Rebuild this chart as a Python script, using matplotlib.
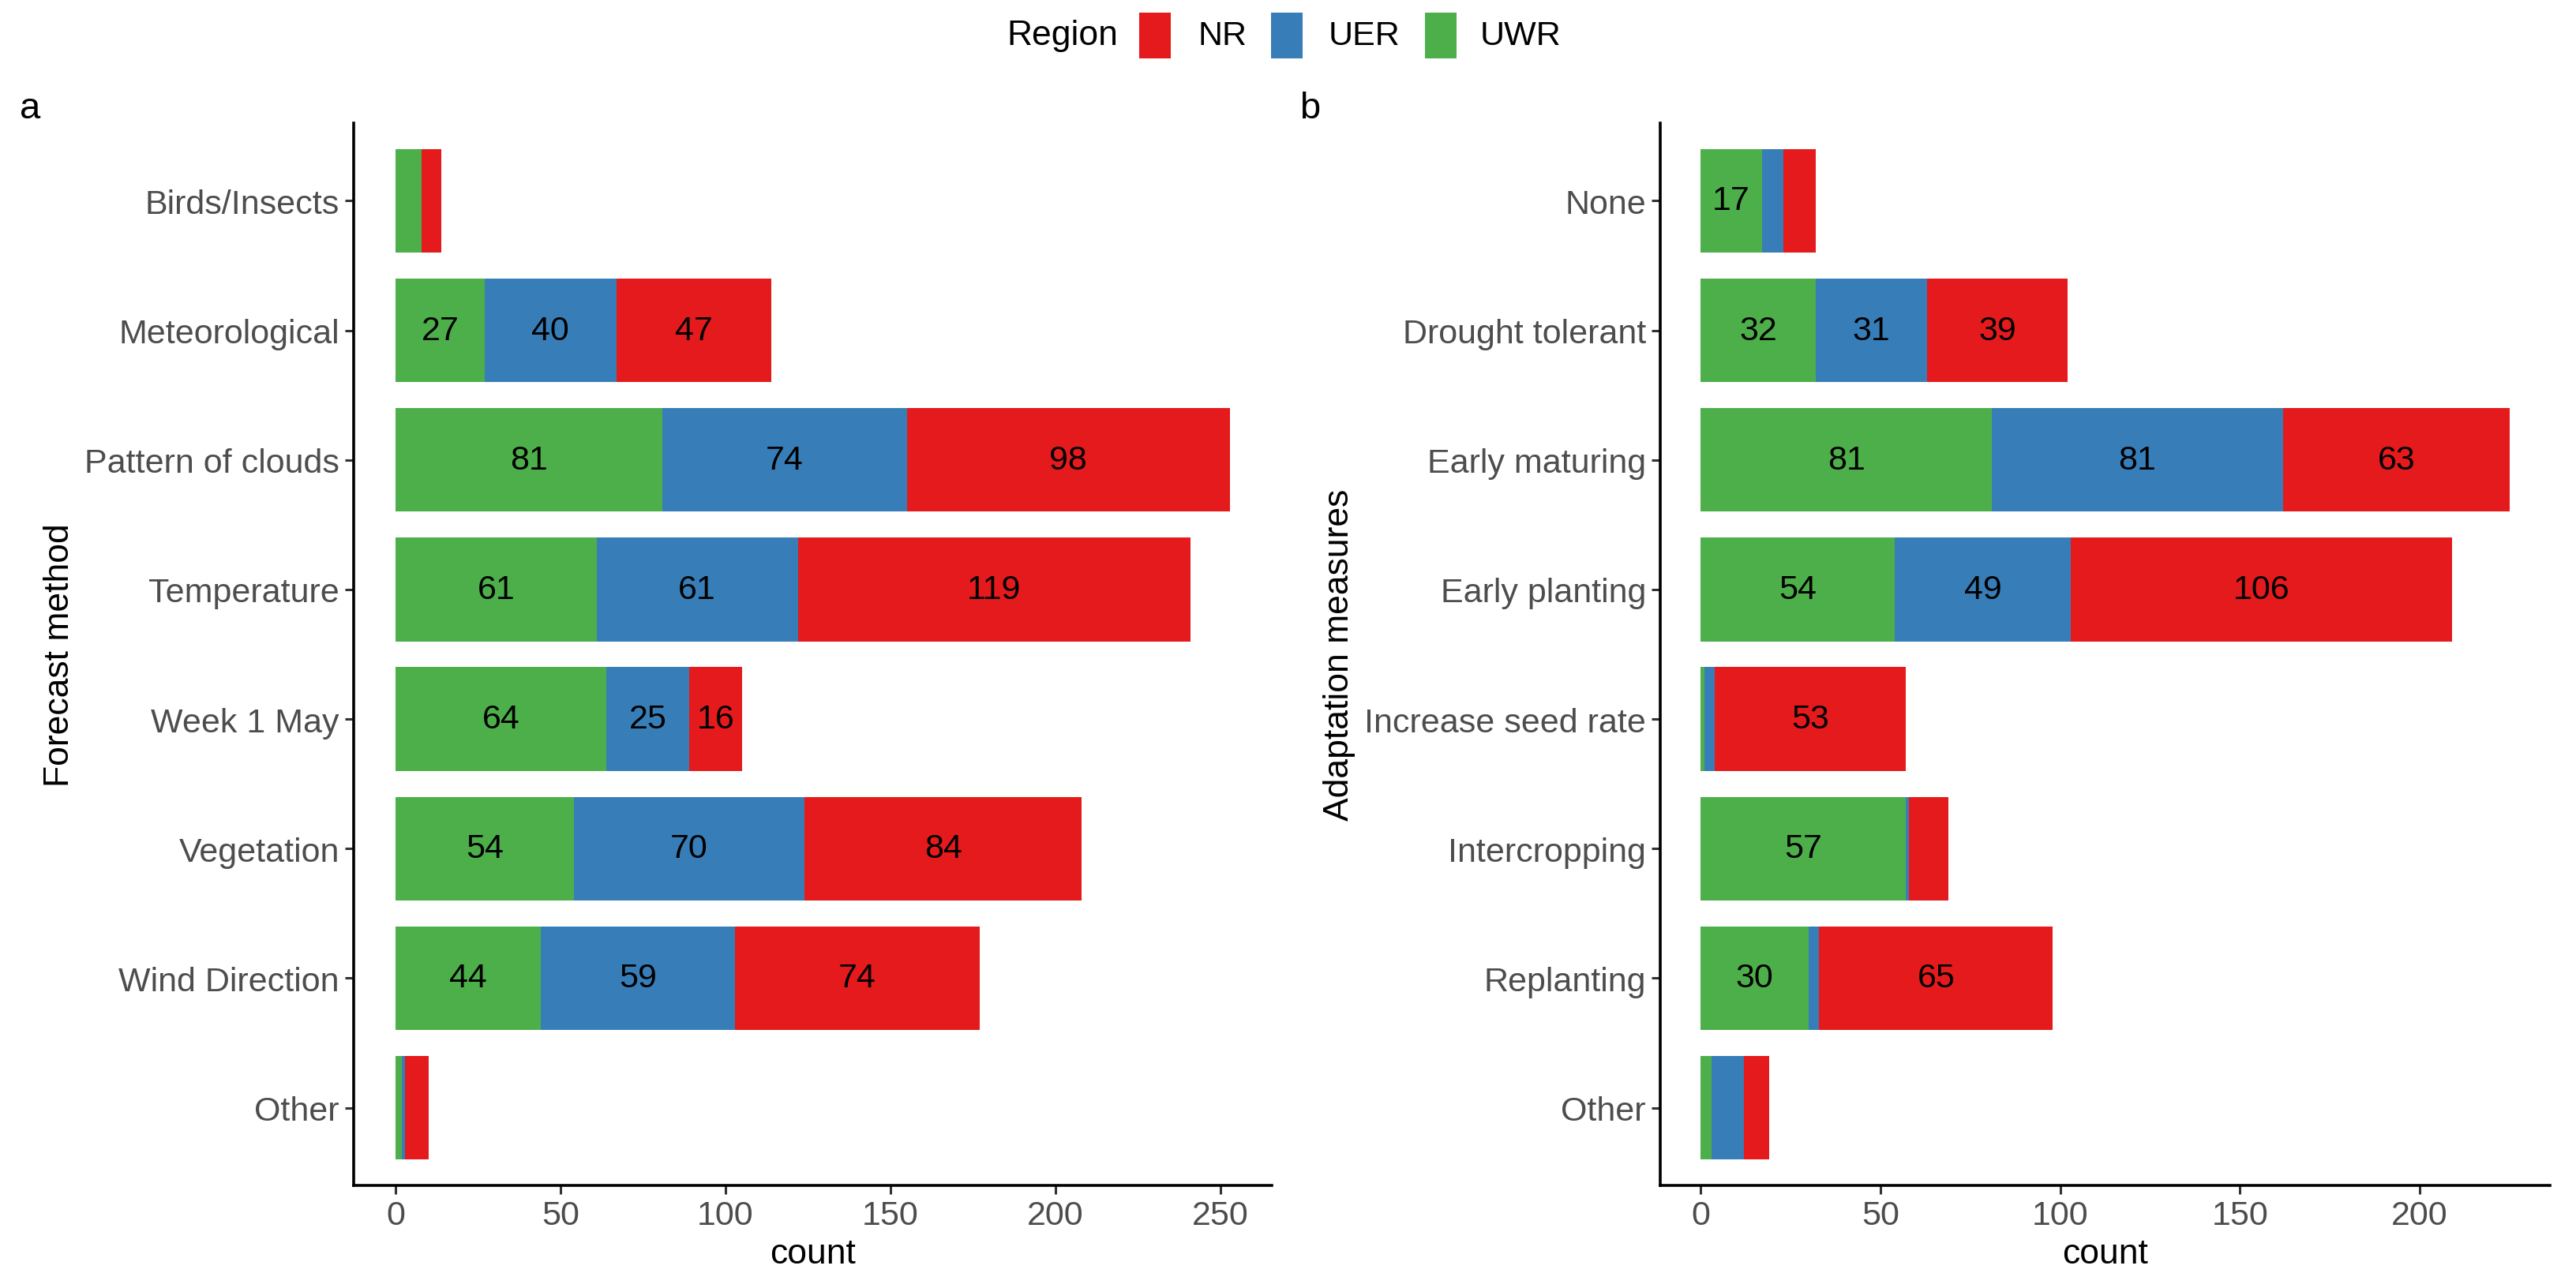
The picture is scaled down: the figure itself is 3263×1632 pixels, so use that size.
import matplotlib
matplotlib.use("Agg")
import matplotlib.pyplot as plt
from matplotlib.patches import Rectangle
import numpy as np

plt.rcParams['font.family'] = ['Liberation Sans', 'DejaVu Sans']

# ---- data ----
regions = ["UWR", "UER", "NR"]           # stacking order, left to right
colors = {"NR": "#E41A1C", "UER": "#377EB8", "UWR": "#4DAF4A"}

forecast_methods = ["Birds/Insects", "Meteorological", "Pattern of clouds", "Temperature",
                    "Week 1 May", "Vegetation", "Wind Direction", "Other"]
forecast_UWR = [8, 27, 81, 61, 64, 54, 44, 2]
forecast_UER = [0, 40, 74, 61, 25, 70, 59, 1]
forecast_NR = [6, 47, 98, 119, 16, 84, 74, 7]

adapt_measures = ["None", "Drought tolerant", "Early maturing", "Early planting",
                  "Increase seed rate", "Intercropping", "Replanting", "Other"]
adapt_UWR = [17, 32, 81, 54, 1, 57, 30, 3]
adapt_UER = [6, 31, 81, 49, 3, 1, 3, 9]
adapt_NR = [9, 39, 63, 106, 53, 11, 65, 7]

forecast_ticks = [0, 50, 100, 150, 200, 250]
adapt_ticks = [0, 50, 100, 150, 200]

W, H = 3263, 1633
DPI = 200
fig = plt.figure(figsize=(W / DPI, H / DPI), dpi=DPI)

TICK_COL = "#4D4D4D"
FS_TICK = 15.5
FS_TITLE = 16
FS_BAR = 15.5


def panel(rect, cats, series, ticks, ylabel):
    ax = fig.add_axes(rect)
    n = len(cats)
    ypos = np.arange(n)[::-1] + 1  # first category on top
    left = np.zeros(n)
    for reg, vals in zip(regions, series):
        vals = np.array(vals, dtype=float)
        ax.barh(ypos, vals, left=left, height=0.8, color=colors[reg], linewidth=0)
        for y, l, v in zip(ypos, left, vals):
            if v >= 15:
                ax.text(l + v / 2, y, f"{int(v)}", ha="center", va="center",
                        fontsize=FS_BAR, color="black")
        left = left + vals
    total_max = left.max()
    ax.set_xlim(-0.05 * total_max, 1.05 * total_max)
    ax.set_ylim(0.4, n + 0.6)
    ax.set_yticks(ypos)
    ax.set_yticklabels(cats)
    ax.set_xticks(ticks)
    ax.tick_params(axis="both", labelsize=FS_TICK, labelcolor=TICK_COL, color="#333333",
                   length=4, width=1.1, pad=2.5)
    for s in ["top", "right"]:
        ax.spines[s].set_visible(False)
    for s in ["left", "bottom"]:
        ax.spines[s].set_linewidth(1.3)
        ax.spines[s].set_color("black")
    ax.set_xlabel("count", fontsize=FS_TITLE, color="black", labelpad=3)
    ax.set_ylabel(ylabel, fontsize=FS_TITLE, color="black", labelpad=4)
    return ax


bottom = 1 - 1503 / H
top = 1 - 157 / H
axa = panel([448 / W, bottom, (1611 - 448) / W, top - bottom], forecast_methods,
            [forecast_UWR, forecast_UER, forecast_NR], forecast_ticks, "Forecast method")
axb = panel([2103 / W, bottom, (3230 - 2103) / W, top - bottom], adapt_measures,
            [adapt_UWR, adapt_UER, adapt_NR], adapt_ticks, "Adaptation measures")

# panel tags
fig.text(25 / W, 1 - 150 / H, "a", fontsize=17, color="black", ha="left", va="baseline")
fig.text(1646 / W, 1 - 150 / H, "b", fontsize=17, color="black", ha="left", va="baseline")

# legend (top centre)
ly = 1 - 46 / H
fig.text(1275 / W, ly, "Region", fontsize=FS_TITLE, color="black", ha="left", va="center")
kw, kh = 40, 58
legend_items = [("NR", 1443, 1517), ("UER", 1610, 1683), ("UWR", 1805, 1875)]
for name, kx, tx in legend_items:
    fig.add_artist(Rectangle((kx / W, ly - kh / 2 / H), kw / W, kh / H,
                             transform=fig.transFigure, facecolor=colors[name],
                             edgecolor="none"))
    fig.text(tx / W, ly, name, fontsize=FS_TICK, color="black", ha="left", va="center")

fig.savefig("out.png", dpi=DPI, facecolor="white")
